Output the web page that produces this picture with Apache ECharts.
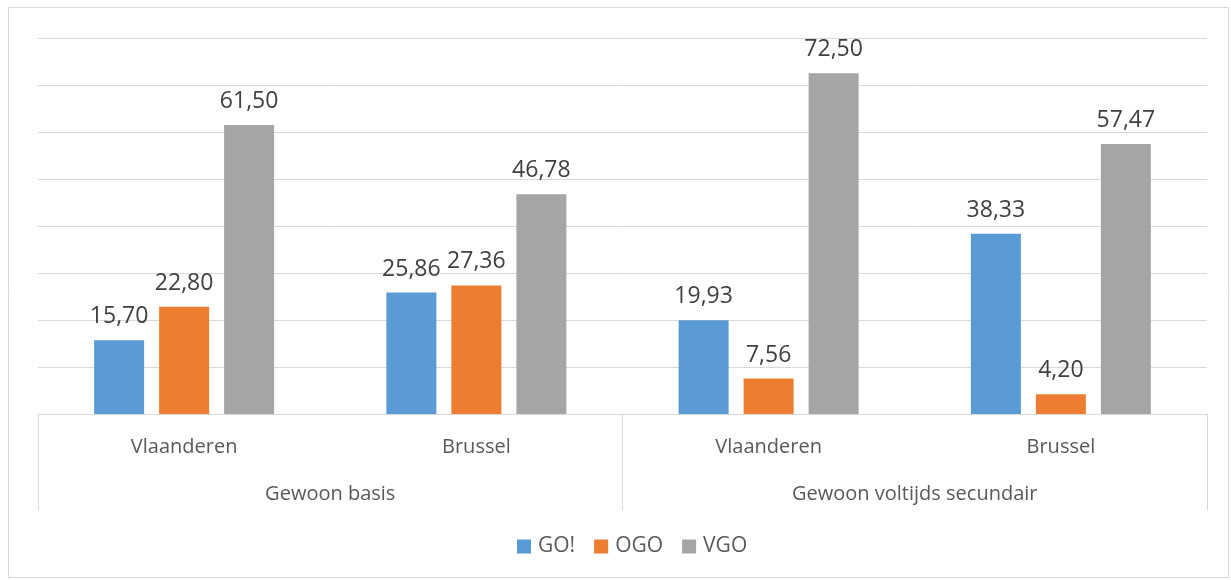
<!DOCTYPE html>
<html>
<head>
<meta charset="utf-8">
<script src="https://cdn.jsdelivr.net/npm/echarts@6/dist/echarts.min.js"></script>
<style>
  html, body { margin: 0; padding: 0; background: #fff; }
  #chart { width: 1231px; height: 580px; }
</style>
</head>
<body>
<div id="chart"></div>
<script>
// inner and outer category labels
const regions = ['Vlaanderen', 'Brussel', 'Vlaanderen', 'Brussel'];
const levels = ['Gewoon basis', 'Gewoon voltijds secundair'];

// values per network
const goValues = [15.70, 25.86, 19.93, 38.33];
const ogoValues = [22.80, 27.36, 7.56, 4.20];
const vgoValues = [61.50, 46.78, 72.50, 57.47];

const chart = echarts.init(document.getElementById('chart'));
const font = '"Open Sans", sans-serif';

const labelFmt = p => p.value.toFixed(2).replace('.', ',');

function barSeries(name, data, color) {
  return {
    name: name,
    type: 'bar',
    data: data,
    barWidth: 50,
    barGap: '30%',
    itemStyle: { color: color },
    label: {
      show: true,
      position: 'top',
      distance: 12,
      formatter: labelFmt,
      color: '#404040',
      fontSize: 23,
      fontFamily: font,
    },
  };
}

const option = {
  animation: false,
  textStyle: { fontFamily: font },
  graphic: [
    {
      type: 'rect',
      shape: { x: 8.5, y: 7.5, width: 1220, height: 570 },
      style: { fill: 'none', stroke: '#d9d9d9', lineWidth: 1 },
      silent: true,
    },
  ],
  legend: {
    top: 531,
    left: 512,
    icon: 'rect',
    itemWidth: 14,
    itemHeight: 14,
    itemGap: 19,
    textStyle: { color: '#595959', fontSize: 21, fontFamily: font, padding: [0, 0, 0, 2] },
    data: ['GO!', 'OGO', 'VGO'],
  },
  grid: {
    left: 38,
    right: 24,
    top: 38,
    bottom: 166,
  },
  xAxis: [
    {
      type: 'category',
      position: 'bottom',
      data: regions,
      axisLine: { lineStyle: { color: '#d9d9d9' } },
      axisTick: { show: false },
      axisLabel: { color: '#595959', fontSize: 20, fontFamily: font, margin: 23 },
    },
    {
      type: 'category',
      position: 'bottom',
      offset: 0,
      data: levels,
      axisLine: { show: false },
      axisTick: { show: true, length: 96, lineStyle: { color: '#d9d9d9' } },
      axisLabel: { color: '#595959', fontSize: 20, fontFamily: font, margin: 70 },
    },
  ],
  yAxis: {
    type: 'value',
    min: 0,
    max: 80,
    interval: 10,
    axisLabel: { show: false },
    axisLine: { show: false },
    axisTick: { show: false },
    splitLine: { lineStyle: { color: '#d9d9d9' } },
  },
  series: [
    barSeries('GO!', goValues, '#5b9bd5'),
    barSeries('OGO', ogoValues, '#ed7d31'),
    barSeries('VGO', vgoValues, '#a5a5a5'),
  ],
};

chart.setOption(option);
</script>
</body>
</html>
